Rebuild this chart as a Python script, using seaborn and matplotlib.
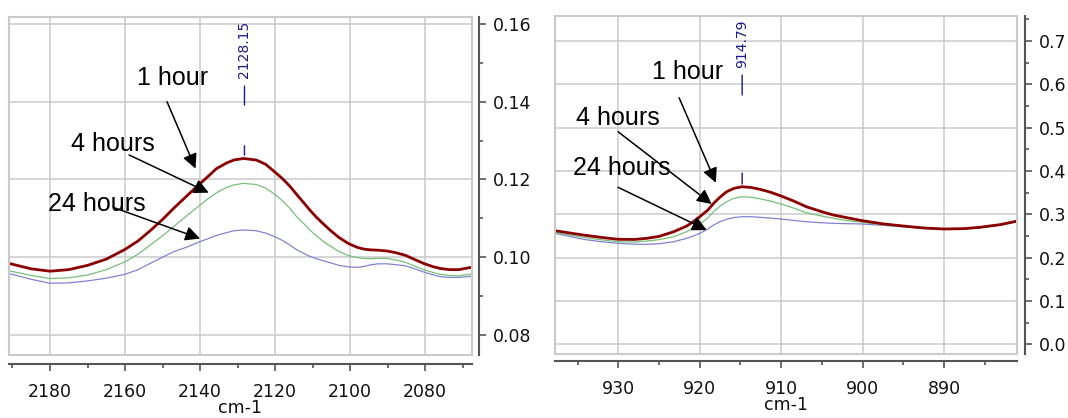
import matplotlib
matplotlib.use("Agg")
import matplotlib.pyplot as plt
import matplotlib.transforms as mtransforms
import seaborn as sns
import pandas as pd
from matplotlib.patches import Rectangle
from matplotlib.ticker import MultipleLocator, FormatStrFormatter

# ---------------- data ----------------
series_names = ["1 hour", "4 hours", "24 hours"]

# left panel
left_wn = [2190.9, 2185, 2180, 2175, 2170, 2165, 2160, 2156.5, 2153.3, 2150,
           2147.1, 2143.5, 2140, 2137.5, 2135.6, 2133, 2131, 2128.4, 2125, 2122.5,
           2120.4, 2118, 2116, 2114.2, 2112, 2110.7, 2108.9, 2106.5, 2105, 2103,
           2100.4, 2098, 2096.4, 2094.7, 2092.5, 2090.2, 2088, 2085.3, 2083, 2080.4,
           2078, 2076, 2073.5, 2071, 2067.6]
left_1h = [0.0984, 0.0970, 0.0964, 0.0968, 0.0979, 0.0995, 0.1020, 0.1042, 0.1068, 0.1097,
           0.1125, 0.1158, 0.1189, 0.1211, 0.1228, 0.1242, 0.1250, 0.1254, 0.1250, 0.1239,
           0.1222, 0.1202, 0.1182, 0.1161, 0.1136, 0.1121, 0.1102, 0.1080, 0.1067, 0.1051,
           0.1035, 0.1025, 0.1021, 0.1019, 0.1018, 0.1016, 0.1012, 0.1005, 0.0995, 0.0984,
           0.0976, 0.0971, 0.0968, 0.0968, 0.0974]
left_4h = [0.0965, 0.0953, 0.0945, 0.0947, 0.0954, 0.0968, 0.0988, 0.1008, 0.1031, 0.1055,
           0.1078, 0.1107, 0.1134, 0.1153, 0.1166, 0.1179, 0.1186, 0.1190, 0.1187, 0.1178,
           0.1164, 0.1145, 0.1125, 0.1104, 0.1083, 0.1070, 0.1054, 0.1036, 0.1027, 0.1015,
           0.1004, 0.0999, 0.0997, 0.0996, 0.0997, 0.0997, 0.0993, 0.0987, 0.0978, 0.0968,
           0.0961, 0.0956, 0.0953, 0.0952, 0.0957]
left_24h = [0.0958, 0.0943, 0.0933, 0.0934, 0.0939, 0.0946, 0.0956, 0.0968, 0.0984, 0.1000,
            0.1014, 0.1026, 0.1040, 0.1049, 0.1056, 0.1063, 0.1068, 0.1070, 0.1068, 0.1062,
            0.1054, 0.1043, 0.1031, 0.1019, 0.1008, 0.1002, 0.0996, 0.0989, 0.0985, 0.0979,
            0.0975, 0.0974, 0.0976, 0.0980, 0.0983, 0.0983, 0.0981, 0.0978, 0.0971, 0.0962,
            0.0955, 0.0950, 0.0948, 0.0948, 0.0951]

# right panel
right_wn = [937.8, 936, 934.3, 932, 930, 928, 926.5, 925, 923.2, 921.6,
            920.8, 920, 919, 918.3, 917.5, 916.7, 915.8, 914.8, 913.7, 912.6,
            911.3, 910, 908.5, 906.9, 905, 903.6, 902, 900, 897.5, 895,
            892.5, 890, 887.5, 885.6, 883, 881]
right_1h = [0.2622, 0.2570, 0.2522, 0.2465, 0.2423, 0.2420, 0.2446, 0.2490, 0.2598, 0.2730,
            0.2830, 0.2945, 0.3100, 0.3254, 0.3400, 0.3522, 0.3600, 0.3637, 0.3620, 0.3577,
            0.3510, 0.3423, 0.3310, 0.3175, 0.3060, 0.2984, 0.2925, 0.2852, 0.2780, 0.2730,
            0.2685, 0.2661, 0.2670, 0.2700, 0.2765, 0.2845]
right_4h = [0.2584, 0.2525, 0.2469, 0.2410, 0.2367, 0.2360, 0.2383, 0.2415, 0.2483, 0.2598,
            0.2680, 0.2776, 0.2920, 0.3060, 0.3190, 0.3291, 0.3370, 0.3406, 0.3395, 0.3360,
            0.3305, 0.3238, 0.3145, 0.3037, 0.2960, 0.2908, 0.2860, 0.2815, 0.2760, 0.2714,
            0.2675, 0.2654, 0.2663, 0.2691, 0.2755, 0.2835]
right_24h = [0.2561, 0.2490, 0.2423, 0.2365, 0.2330, 0.2310, 0.2307, 0.2320, 0.2367, 0.2446,
             0.2500, 0.2561, 0.2660, 0.2753, 0.2830, 0.2885, 0.2925, 0.2945, 0.2945, 0.2931,
             0.2912, 0.2891, 0.2860, 0.2829, 0.2805, 0.2792, 0.2785, 0.2776, 0.2745, 0.2714,
             0.2675, 0.2654, 0.2663, 0.2691, 0.2755, 0.2835]

peak_left = 2128.15
peak_right = 914.79
x_label = "cm-1"

# ---------------- style ----------------
sns.set_theme(style="white")
plt.rcParams["font.family"] = ["DejaVu Sans"]

colors = {"1 hour": "#8b0000", "4 hours": "#76c076", "24 hours": "#8282d2"}
widths = {"1 hour": 2.0, "4 hours": 0.9, "24 hours": 0.9}
grid_c = "#cacaca"
spine_c = "#555555"
navy = "#1a1a8c"
tick_fs = 12.5

fig = plt.figure(figsize=(10.68, 4.18), dpi=100)
axL = fig.add_axes([0.00843, 0.150, 0.4333, 0.8086])
axR = fig.add_axes([0.5197, 0.1531, 0.4326, 0.8093])


def draw(ax, wn, ys):
    df = pd.DataFrame({"wn": wn})
    for name, y in zip(series_names[::-1], ys[::-1]):
        df["y"] = y
        sns.lineplot(data=df, x="wn", y="y", ax=ax, color=colors[name],
                     lw=widths[name], sort=False, estimator=None, zorder=3)


def style(ax, xlim, ylim, xmaj, xmin, ymaj, ymin, yfmt, off_r, off_b):
    ax.set_xlim(*xlim)
    ax.set_ylim(*ylim)
    ax.xaxis.set_major_locator(MultipleLocator(xmaj))
    ax.xaxis.set_minor_locator(MultipleLocator(xmin))
    ax.yaxis.set_major_locator(MultipleLocator(ymaj))
    ax.yaxis.set_minor_locator(MultipleLocator(ymin))
    ax.yaxis.set_major_formatter(FormatStrFormatter(yfmt))
    ax.xaxis.set_major_formatter(FormatStrFormatter("%d"))
    ax.grid(True, which="major", color=grid_c, lw=1.1)
    ax.set_axisbelow(True)
    ax.yaxis.tick_right()
    for s in ["top", "left"]:
        ax.spines[s].set_visible(False)
    ax.spines["right"].set_position(("outward", off_r))
    ax.spines["bottom"].set_position(("outward", off_b))
    for s in ["right", "bottom"]:
        ax.spines[s].set_color(spine_c)
        ax.spines[s].set_linewidth(1.5)
    ax.add_patch(Rectangle((0, 0), 1, 1, transform=ax.transAxes, fill=False,
                           edgecolor=grid_c, lw=1.5, zorder=4, clip_on=False))
    ax.tick_params(axis="x", which="major", direction="out", length=5, width=1.2,
                   color=spine_c, labelsize=tick_fs, pad=9, labelcolor="#111111",
                   bottom=True)
    ax.tick_params(axis="x", which="minor", direction="out", length=3, width=1.2,
                   color=spine_c, bottom=True)
    ax.tick_params(axis="y", which="major", direction="out", length=5, width=1.2,
                   color=spine_c, labelsize=tick_fs, pad=5, labelcolor="#111111",
                   right=True, left=False)
    ax.tick_params(axis="y", which="minor", direction="out", length=3, width=1.2,
                   color=spine_c, right=True, left=False)
    ax.set_xlabel(x_label, fontsize=tick_fs, labelpad=-1.5, color="#111111")
    ax.set_ylabel("")


draw(axL, left_wn, [left_1h, left_4h, left_24h])
draw(axR, right_wn, [right_1h, right_4h, right_24h])

style(axL, (2190.93, 2067.55), (0.07476, 0.16172), 20, 10, 0.02, 0.01, "%.2f", 5.3, 6.3)
style(axR, (937.78, 881.02), (-0.0226, 0.7587), 10, 5, 0.1, 0.05, "%.1f", 6.0, 4.8)


def peak_mark(ax, x, y, tick_off, line_off, text_off, label):
    def off(dy):
        return mtransforms.offset_copy(ax.transData, fig=fig, x=0, y=dy, units="dots")
    for a, b in (tick_off, line_off):
        ax.annotate("", xy=(x, y), xycoords=off(a), xytext=(x, y), textcoords=off(b),
                    arrowprops=dict(arrowstyle="-", color=navy, lw=1.0,
                                    shrinkA=0, shrinkB=0), annotation_clip=False)
    ax.text(x, y, label, transform=off(text_off), rotation=90, ha="center",
            va="bottom", color=navy, fontsize=10, clip_on=False)


peak_mark(axL, peak_left, max(left_1h), (3.4, 12.7), (53.4, 72.4), 80.4, f"{peak_left:.2f}")
peak_mark(axR, peak_right, max(right_1h), (2.7, 13.7), (91.7, 111.7), 118.7, f"{peak_right:.2f}")

# text labels with arrows (positions in data units)
ann_left = {
    "1 hour": ((2147.2, 0.1461), (2148.8, 0.1400), (2141.2, 0.1228)),
    "4 hours": ((2163.3, 0.1292), (2158.9, 0.1263), (2137.7, 0.1166)),
    "24 hours": ((2167.5, 0.1137), (2163.1, 0.1128), (2140.0, 0.1048)),
}
ann_right = {
    "1 hour": ((921.56, 0.6286), (922.54, 0.5693), (918.02, 0.3730)),
    "4 hours": ((930.10, 0.5236), (930.04, 0.4908), (918.53, 0.3238)),
    "24 hours": ((929.60, 0.4081), (930.04, 0.3624), (919.14, 0.2637)),
}
for ax, ann in ((axL, ann_left), (axR, ann_right)):
    for name, (tpos, start, tip) in ann.items():
        ax.text(*tpos, name, ha="center", va="center", fontsize=18,
                family=["Liberation Sans", "DejaVu Sans"], color="black", zorder=6)
        ax.annotate("", xy=tip, xytext=start,
                    arrowprops=dict(arrowstyle="-|>", color="black", lw=1.1,
                                    mutation_scale=22, shrinkA=0, shrinkB=0),
                    zorder=7)

fig.savefig("out.png", dpi=100, facecolor="white")
